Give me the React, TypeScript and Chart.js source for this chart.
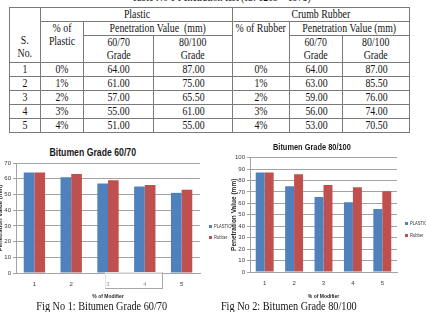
import React, { useEffect, useRef } from "react";
import { Chart, registerables } from "chart.js";

Chart.register(...registerables);

// ---- Table 1: penetration test results ----
const tableCaption = "Table No 1 Penetration test (IS: 1203 – 1978)";
const serialNo = ["1", "2", "3", "4", "5"];
const plasticContent = ["0%", "1%", "2%", "3%", "4%"];
const rubberContent = ["0%", "1%", "2%", "3%", "4%"];
const plasticGrade6070 = [64, 61, 57, 55, 51];
const plasticGrade80100 = [87, 75, 65.5, 61, 55];
const rubberGrade6070 = [64, 63, 59, 56, 53];
const rubberGrade80100 = [87, 85.5, 76, 74, 70.5];

// ---- Charts ----
const modifierSteps = ["1", "2", "3", "4", "5"];
const seriesLabels = ["PLASTIC", "Rubber"];
const seriesColors = ["#4F81BD", "#C0504D"];
const yTicks6070 = [0, 10, 20, 30, 40, 50, 60, 70];
const yTicks80100 = [0, 10, 20, 30, 40, 50, 60, 70, 80, 90, 100];

const SERIF = "'Liberation Serif', 'Times New Roman', serif";
const SANS = "'Liberation Sans', Arial, sans-serif";
const GRID = "#a3a3a3";
const TICK_TEXT = "#3a3a3a";
const TEXT_SCALE = 0.82;

const Squeeze: React.FC<{ children: React.ReactNode; scale?: number }> = ({
  children,
  scale = TEXT_SCALE,
}) => (
  <div style={{ display: "flex", justifyContent: "center" }}>
    <span
      style={{
        display: "inline-block",
        transform: `scaleX(${scale})`,
        whiteSpace: "nowrap",
        textAlign: "center",
      }}
    >
      {children}
    </span>
  </div>
);

const cell: React.CSSProperties = {
  border: "1px solid #7a7a7a",
  padding: 0,
  textAlign: "center",
  verticalAlign: "middle",
  fontFamily: SERIF,
  fontSize: 12,
  lineHeight: "13px",
  color: "#141414",
  overflow: "visible",
};

const PenetrationTable: React.FC = () => {
  const colWidths = [31, 43, 70, 79, 57, 53, 67];
  return (
    <table
      style={{
        position: "absolute",
        left: 9,
        top: 7,
        width: 400,
        tableLayout: "fixed",
        borderCollapse: "collapse",
      }}
    >
      <colgroup>
        {colWidths.map((w, i) => (
          <col key={i} style={{ width: w }} />
        ))}
      </colgroup>
      <tbody>
        <tr style={{ height: 14 }}>
          <td rowSpan={3} style={{ ...cell, verticalAlign: "bottom", paddingBottom: 2 }}>
            <Squeeze>
              S.
              <br />
              No.
            </Squeeze>
          </td>
          <td colSpan={3} style={cell}>
            <Squeeze>Plastic</Squeeze>
          </td>
          <td colSpan={3} style={cell}>
            <Squeeze>Crumb Rubber</Squeeze>
          </td>
        </tr>
        <tr style={{ height: 13 }}>
          <td rowSpan={2} style={{ ...cell, verticalAlign: "top" }}>
            <Squeeze>
              % of
              <br />
              Plastic
            </Squeeze>
          </td>
          <td colSpan={2} style={cell}>
            <Squeeze>Penetration Value&nbsp; (mm)</Squeeze>
          </td>
          <td rowSpan={2} style={{ ...cell, verticalAlign: "top" }}>
            <Squeeze>% of Rubber</Squeeze>
          </td>
          <td colSpan={2} style={cell}>
            <Squeeze>Penetration Value (mm)</Squeeze>
          </td>
        </tr>
        <tr style={{ height: 27 }}>
          {["60/70", "80/100", "60/70", "80/100"].map((g, i) => (
            <td key={i} style={cell}>
              <Squeeze>
                {g}
                <br />
                Grade
              </Squeeze>
            </td>
          ))}
        </tr>
        {serialNo.map((s, i) => (
          <tr key={s} style={{ height: i % 2 === 0 ? 13 : 14 }}>
            <td style={cell}>
              <Squeeze>{s}</Squeeze>
            </td>
            <td style={cell}>
              <Squeeze>{plasticContent[i]}</Squeeze>
            </td>
            <td style={cell}>
              <Squeeze>{plasticGrade6070[i].toFixed(2)}</Squeeze>
            </td>
            <td style={cell}>
              <Squeeze>{plasticGrade80100[i].toFixed(2)}</Squeeze>
            </td>
            <td style={cell}>
              <Squeeze>{rubberContent[i]}</Squeeze>
            </td>
            <td style={cell}>
              <Squeeze>{rubberGrade6070[i].toFixed(2)}</Squeeze>
            </td>
            <td style={cell}>
              <Squeeze>{rubberGrade80100[i].toFixed(2)}</Squeeze>
            </td>
          </tr>
        ))}
      </tbody>
    </table>
  );
};

type Box = { left: number; top: number; width: number; height: number };

type BarChartProps = {
  series: number[][];
  yTicks: number[];
  box: Box;
  yAxisWidth: number;
  xAxisHeight: number;
  padTop: number;
  padRight: number;
  groupFraction: number;
  yTitleSize: number;
};

const BarChart: React.FC<BarChartProps> = (p) => {
  const ref = useRef<HTMLCanvasElement>(null);
  useEffect(() => {
    const canvas = ref.current;
    if (!canvas) return;
    const chart = new Chart(canvas, {
      type: "bar",
      data: {
        labels: modifierSteps,
        datasets: p.series.map((values, i) => ({
          label: seriesLabels[i],
          data: values,
          backgroundColor: seriesColors[i],
          borderWidth: 0,
          categoryPercentage: p.groupFraction,
          barPercentage: 1,
        })),
      },
      options: {
        responsive: false,
        animation: false,
        devicePixelRatio: 1,
        layout: { padding: { top: p.padTop, right: p.padRight, left: 0, bottom: 0 } },
        plugins: {
          legend: { display: false },
          tooltip: { enabled: false },
          title: { display: false },
        },
        scales: {
          x: {
            grid: { display: false },
            border: { display: true, color: GRID, width: 1 },
            ticks: { font: { family: SANS, size: 6 }, color: TICK_TEXT, padding: 0 },
            title: {
              display: true,
              text: "% of Modifier",
              font: { family: SANS, size: 5, weight: "bold" },
              color: "#262626",
              padding: 0,
            },
            afterFit: (scale: any) => {
              scale.height = p.xAxisHeight;
            },
          },
          y: {
            min: p.yTicks[0],
            max: p.yTicks[p.yTicks.length - 1],
            ticks: {
              stepSize: p.yTicks[1] - p.yTicks[0],
              font: { family: SANS, size: 6 },
              color: TICK_TEXT,
              padding: 2,
            },
            grid: { color: GRID, lineWidth: 1, drawTicks: true, tickLength: 3, tickColor: GRID },
            border: { display: true, color: GRID, width: 1 },
            title: {
              display: true,
              text: "Penetration Value (mm)",
              font: { family: SANS, size: p.yTitleSize, weight: "bold" },
              color: "#262626",
              padding: 0,
            },
            afterFit: (scale: any) => {
              scale.width = p.yAxisWidth;
            },
          },
        },
      },
    });
    return () => chart.destroy();
  }, []);
  return (
    <canvas
      ref={ref}
      width={p.box.width}
      height={p.box.height}
      style={{
        position: "absolute",
        left: p.box.left,
        top: p.box.top,
        width: p.box.width,
        height: p.box.height,
      }}
    />
  );
};

const ChartTitle: React.FC<{ text: string; cx: number; cy: number; size: number; scale: number }> = ({
  text,
  cx,
  cy,
  size,
  scale,
}) => (
  <div
    style={{
      position: "absolute",
      left: cx - 100,
      top: cy - 7,
      width: 200,
      lineHeight: "14px",
      fontFamily: SANS,
      fontWeight: "bold",
      fontSize: size,
      color: "#1a1a1a",
    }}
  >
    <Squeeze scale={scale}>{text}</Squeeze>
  </div>
);

const Caption: React.FC<{ text: string; cx: number; cy: number }> = ({ text, cx, cy }) => (
  <div
    style={{
      position: "absolute",
      left: cx - 150,
      top: cy - 7,
      width: 300,
      lineHeight: "14px",
      fontFamily: SERIF,
      fontSize: 12.5,
      color: "#141414",
    }}
  >
    <Squeeze>{text}</Squeeze>
  </div>
);

const Legend: React.FC<{ x: number; ys: number[] }> = ({ x, ys }) => (
  <>
    {seriesLabels.map((name, i) => (
      <div
        key={name}
        style={{
          position: "absolute",
          left: x,
          top: ys[i] - 4,
          height: 8,
          display: "flex",
          alignItems: "center",
          fontFamily: SANS,
          fontSize: 5,
          color: "#333",
          whiteSpace: "nowrap",
        }}
      >
        <span
          style={{
            display: "inline-block",
            width: 3,
            height: 3,
            background: seriesColors[i],
            marginRight: 1.5,
          }}
        />
        <span style={{ display: "inline-block", transform: "scaleX(0.82)", transformOrigin: "left center" }}>
          {name}
        </span>
      </div>
    ))}
  </>
);

export default function App() {
  return (
    <div
      style={{
        position: "fixed",
        left: 0,
        top: 0,
        width: 426,
        height: 312,
        overflow: "hidden",
        background: "#fff",
      }}
    >
      <div
        style={{
          position: "absolute",
          left: 71,
          top: -9,
          width: 300,
          lineHeight: "12px",
          fontFamily: SERIF,
          fontSize: 12,
          color: "#141414",
        }}
      >
        <Squeeze>{tableCaption}</Squeeze>
      </div>
      <PenetrationTable />

      <ChartTitle text="Bitumen Grade 60/70" cx={93} cy={153} size={10} scale={0.87} />
      <BarChart
        series={[plasticGrade6070, rubberGrade6070]}
        yTicks={yTicks6070}
        box={{ left: -3, top: 140, width: 220, height: 160 }}
        yAxisWidth={19}
        xAxisHeight={27}
        padTop={23}
        padRight={17}
        groupFraction={0.58}
        yTitleSize={6}
      />
      <div
        style={{
          position: "absolute",
          left: 105,
          top: 272,
          width: 56,
          height: 15,
          borderTop: "1px solid #e2e2e2",
          borderLeft: "1px solid #e2e2e2",
          borderRight: "1px solid #a8a8a8",
          borderBottom: "1px solid #a8a8a8",
          background: "rgba(255,255,255,0.45)",
        }}
      />
      <Legend x={209} ys={[226, 237]} />
      <Caption text="Fig No 1: Bitumen Grade 60/70" cx={102} cy={306} />

      <ChartTitle text="Bitumen Grade 80/100" cx={312} cy={147} size={9.5} scale={0.78} />
      <BarChart
        series={[plasticGrade80100, rubberGrade80100]}
        yTicks={yTicks80100}
        box={{ left: 230, top: 140, width: 180, height: 160 }}
        yAxisWidth={20}
        xAxisHeight={28}
        padTop={17.6}
        padRight={13}
        groupFraction={0.61}
        yTitleSize={6.5}
      />
      <Legend x={405} ys={[223, 235]} />
      <Caption text="Fig No 2: Bitumen Grade 80/100" cx={289} cy={306} />
    </div>
  );
}
